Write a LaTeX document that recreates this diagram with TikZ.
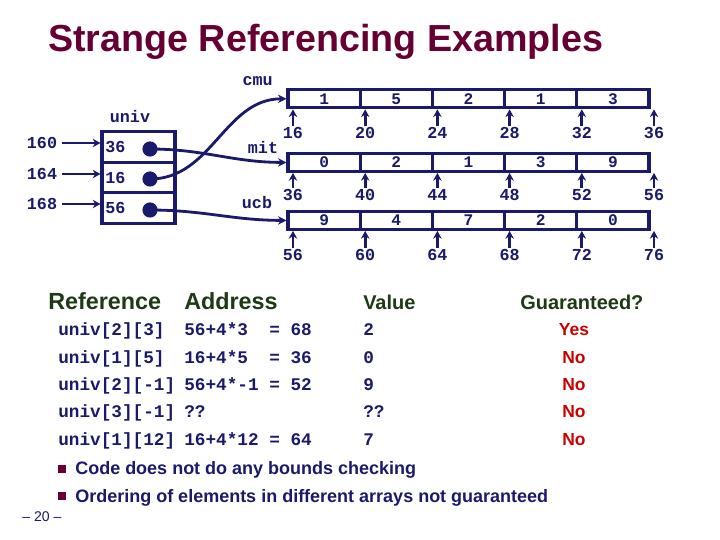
\documentclass[tikz,border=0pt]{standalone}
\usepackage{fontspec}
\setmainfont{Liberation Sans}
\setmonofont{Liberation Mono}
\usepackage{tikz}
\usetikzlibrary{arrows.meta,positioning,calc}
\usepackage{xcolor}
\definecolor{Ink}{HTML}{1A1A6B}
\definecolor{Maroon}{HTML}{660033}
\definecolor{Head}{HTML}{1E3A14}
\definecolor{Flag}{HTML}{CC0000}

\begin{document}
\begin{tikzpicture}[x=1cm,y=1cm,>=Stealth,
  cell/.style={draw=Ink,line width=2.2pt,minimum width=1.805cm,minimum height=0.45cm,inner sep=0pt,text=Ink,font=\ttfamily\bfseries\fontsize{11.5}{11.5}\selectfont},
  ucell/.style={draw=Ink,line width=2.2pt,minimum width=1.825cm,minimum height=0.7625cm,inner sep=0pt},
  addr/.style={text=Ink,font=\ttfamily\bfseries\fontsize{11.9}{12}\selectfont},
  tag/.style={addr,inner sep=1pt},
  dot/.style={circle,fill=Ink,minimum size=0.38cm,inner sep=0pt},
  ptr/.style={Ink,line width=2pt,-{Stealth[length=6pt,width=6pt]}},
  tick/.style={Ink,line width=2pt,-{Stealth[length=5.5pt,width=6pt]}},
  code/.style={text=Ink,font=\ttfamily\bfseries\fontsize{12.6}{13}\selectfont,anchor=base west,inner sep=0pt},
  head/.style={text=Head,font=\bfseries\fontsize{16.6}{17}\selectfont,anchor=base west,inner sep=0pt},
  headsm/.style={text=Head,font=\bfseries\fontsize{14.2}{15}\selectfont,anchor=base west,inner sep=0pt},
  flag/.style={text=Flag,font=\bfseries\fontsize{12.4}{13}\selectfont,anchor=base,inner sep=0pt},
  note/.style={text=Ink,font=\bfseries\fontsize{12.8}{13}\selectfont,anchor=base west,inner sep=0pt},
  bullet/.style={fill=Maroon,minimum size=0.2cm,inner sep=0pt}]
\fill[white] (0,0) rectangle (18,13.5);
\useasboundingbox (0,0) rectangle (18,13.5);
\node[anchor=base west,inner sep=0pt,text=Maroon,font=\bfseries\fontsize{26.8}{28}\selectfont] (title) at (1.2,12.2) {Strange Referencing Examples};
\node[cell] (cmu1) at (8.1025,11.03) {1};
\node[cell] (cmu2) at (9.9075,11.03) {5};
\node[cell] (cmu3) at (11.7125,11.03) {2};
\node[cell] (cmu4) at (13.5175,11.03) {1};
\node[cell] (cmu5) at (15.3225,11.03) {3};
\node[cell] (mit1) at (8.1025,9.44) {0};
\node[cell] (mit2) at (9.9075,9.44) {2};
\node[cell] (mit3) at (11.7125,9.44) {1};
\node[cell] (mit4) at (13.5175,9.44) {3};
\node[cell] (mit5) at (15.3225,9.44) {9};
\node[cell] (ucb1) at (8.1025,7.99) {9};
\node[cell] (ucb2) at (9.9075,7.99) {4};
\node[cell] (ucb3) at (11.7125,7.99) {7};
\node[cell] (ucb4) at (13.5175,7.99) {2};
\node[cell] (ucb5) at (15.3225,7.99) {0};
\node[addr] (cmu) at (6.44,11.47) {cmu};
\node[addr] (mit) at (6.575,9.825) {mit};
\node[addr] (ucb) at (6.425,8.425) {ucb};
\node[tag] (c16) at (7.325,10.175) {16};
\node[tag] (c20) at (9.130,10.175) {20};
\node[tag] (c24) at (10.935,10.175) {24};
\node[tag] (c28) at (12.740,10.175) {28};
\node[tag] (c32) at (14.545,10.175) {32};
\node[tag] (c36) at (16.350,10.175) {36};
\node[tag] (m36) at (7.325,8.625) {36};
\node[tag] (m40) at (9.130,8.625) {40};
\node[tag] (m44) at (10.935,8.625) {44};
\node[tag] (m48) at (12.740,8.625) {48};
\node[tag] (m52) at (14.545,8.625) {52};
\node[tag] (m56) at (16.350,8.625) {56};
\node[tag] (b56) at (7.325,7.125) {56};
\node[tag] (b60) at (9.130,7.125) {60};
\node[tag] (b64) at (10.935,7.125) {64};
\node[tag] (b68) at (12.740,7.125) {68};
\node[tag] (b72) at (14.545,7.125) {72};
\node[tag] (b76) at (16.350,7.125) {76};
\draw[tick] (c16) -- (c16 |- cmu1.south);
\draw[tick] (c20) -- (c20 |- cmu2.south);
\draw[tick] (c24) -- (c24 |- cmu3.south);
\draw[tick] (c28) -- (c28 |- cmu4.south);
\draw[tick] (c32) -- (c32 |- cmu5.south);
\draw[tick] (c36) -- (c36 |- cmu5.south);
\draw[tick] (m36) -- (m36 |- mit1.south);
\draw[tick] (m40) -- (m40 |- mit2.south);
\draw[tick] (m44) -- (m44 |- mit3.south);
\draw[tick] (m48) -- (m48 |- mit4.south);
\draw[tick] (m52) -- (m52 |- mit5.south);
\draw[tick] (m56) -- (m56 |- mit5.south);
\draw[tick] (b56) -- (b56 |- ucb1.south);
\draw[tick] (b60) -- (b60 |- ucb2.south);
\draw[tick] (b64) -- (b64 |- ucb3.south);
\draw[tick] (b68) -- (b68 |- ucb4.south);
\draw[tick] (b72) -- (b72 |- ucb5.south);
\draw[tick] (b76) -- (b76 |- ucb5.south);
\node[addr] (univ) at (3.25,10.575) {univ};
\node[ucell] (u0) at (3.4625,9.825) {};
\node[ucell] (u1) at (3.4625,9.0625) {};
\node[ucell] (u2) at (3.4625,8.30) {};
\node[addr,anchor=west] (v0) at (u0.west) {36};
\node[addr,anchor=west] (v1) at (u1.west) {16};
\node[addr,anchor=west] (v2) at (u2.west) {56};
\node[dot] (d0) at (3.75,9.775) {};
\node[dot] (d1) at (3.75,9.025) {};
\node[dot] (d2) at (3.75,8.25) {};
\node[addr] (l160) at (1.05,9.925) {160};
\node[addr] (l164) at (1.05,9.15) {164};
\node[addr] (l168) at (1.05,8.40) {168};
\draw[tick] (l160) -- (l160 -| u0.west);
\draw[tick] (l164) -- (l164 -| u1.west);
\draw[tick] (l168) -- (l168 -| u2.west);
\draw[ptr] (d0.center) to[out=0,in=180] (mit1.west);
\draw[ptr] (d1.center) to[out=0,in=180] (cmu1.west);
\draw[ptr] (d2.center) to[out=0,in=180] (ucb1.west);
\node[head] (hRef) at (1.2,5.75) {Reference};
\node[head] (hAddr) at (4.6,5.75) {Address};
\node[headsm] (hVal) at (9.075,5.75) {Value};
\node[headsm] (hGuar) at (13.0,5.75) {Guaranteed?};
\node[code] (r1) at (1.45,5.10) {univ[2][3]};
\node[code] (a1) at (4.6,5.10) {56+4*3~~=~68};
\node[code] (w1) at (9.075,5.10) {2};
\node[flag] (g1) at (14.35,5.10) {Yes};
\node[code] (r2) at (1.45,4.40) {univ[1][5]};
\node[code] (a2) at (4.6,4.40) {16+4*5~~=~36};
\node[code] (w2) at (9.075,4.40) {0};
\node[flag] (g2) at (14.35,4.40) {No};
\node[code] (r3) at (1.45,3.725) {univ[2][-1]};
\node[code] (a3) at (4.6,3.725) {56+4*-1~=~52};
\node[code] (w3) at (9.075,3.725) {9};
\node[flag] (g3) at (14.35,3.725) {No};
\node[code] (r4) at (1.45,3.05) {univ[3][-1]};
\node[code] (a4) at (4.6,3.05) {??};
\node[code] (w4) at (9.075,3.05) {??};
\node[flag] (g4) at (14.35,3.05) {No};
\node[code] (r5) at (1.45,2.35) {univ[1][12]};
\node[code] (a5) at (4.6,2.35) {16+4*12~=~64};
\node[code] (w5) at (9.075,2.35) {7};
\node[flag] (g5) at (14.35,2.35) {No};
\node[bullet] (b1) at (1.55,1.775) {};
\node[note] (n1) at (1.875,1.625) {Code does not do any bounds checking};
\node[bullet] (b2) at (1.55,1.10) {};
\node[note] (n2) at (1.875,0.95) {Ordering of elements in different arrays not guaranteed};
\node[text=Ink,font=\fontsize{10}{10}\selectfont] (page) at (1.05,0.575) {\textendash{} 20 \textendash};
\end{tikzpicture}
\end{document}
